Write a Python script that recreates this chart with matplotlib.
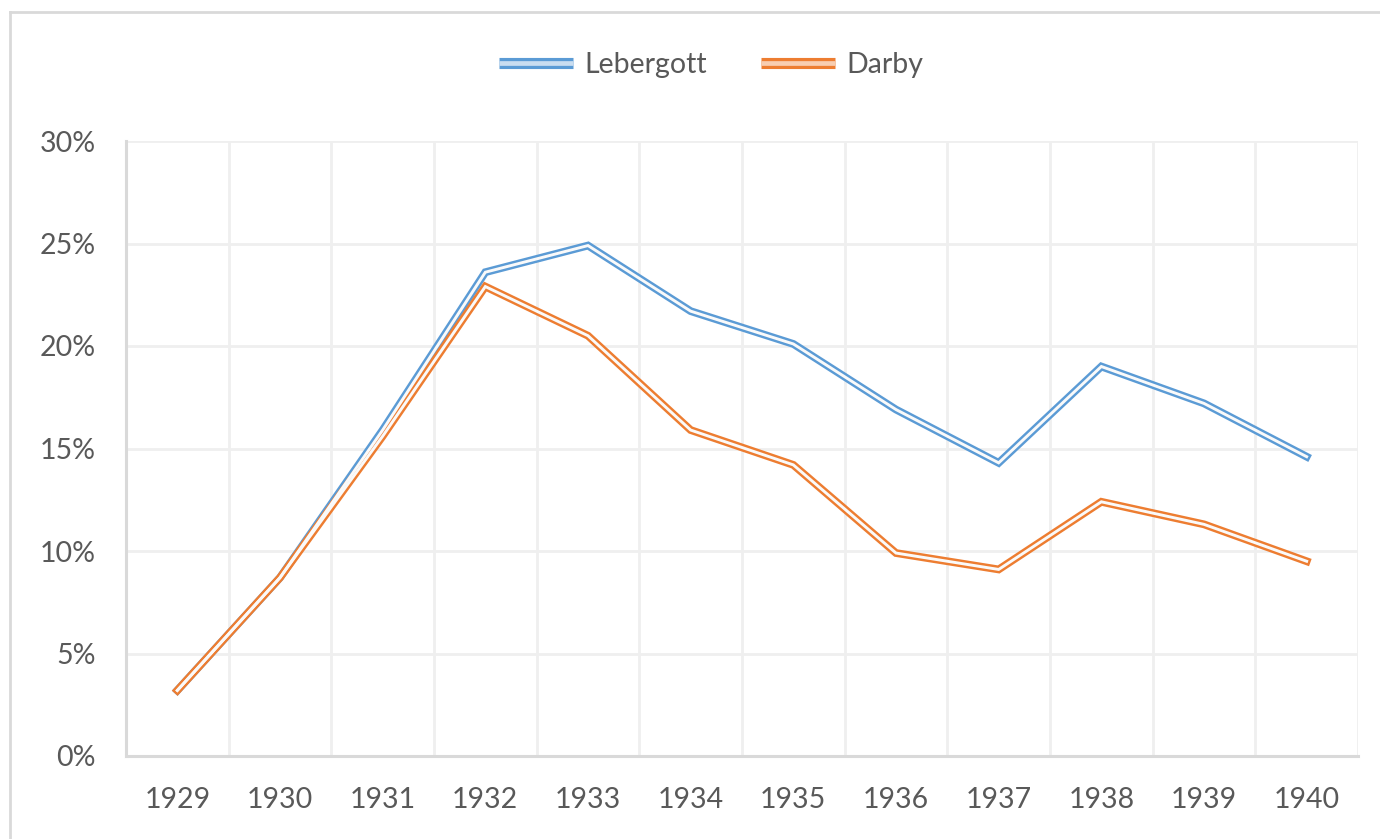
import matplotlib.pyplot as plt
from matplotlib.lines import Line2D
import matplotlib.patheffects as pe
from matplotlib.ticker import FuncFormatter, MultipleLocator

years = ["1929", "1930", "1931", "1932", "1933", "1934",
         "1935", "1936", "1937", "1938", "1939", "1940"]
lebergott = [3.2, 8.7, 15.9, 23.6, 24.9, 21.7, 20.1, 16.9, 14.3, 19.0, 17.2, 14.6]
darby = [3.2, 8.7, 15.6, 22.9, 20.5, 15.9, 14.2, 9.9, 9.1, 12.4, 11.3, 9.5]

plt.rcParams['font.family'] = ['Lato', 'DejaVu Sans']
text_col = "#595959"
grid_col = "#EFEFEF"
axis_col = "#D9D9D9"
blue, orange = "#5B9BD5", "#ED7D31"

fig = plt.figure(figsize=(13.8, 8.39), dpi=100)
ax = fig.add_axes([126 / 1380, 83 / 839, 1232 / 1380, 615 / 839])

x = range(len(years))
outer, inner = 5.6, 2.1
for vals, col in [(lebergott, blue), (darby, orange)]:
    ax.plot(x, vals, color=col, lw=outer, solid_joinstyle="miter", zorder=3)
    ax.plot(x, vals, color="#FAFAFA", lw=inner, solid_joinstyle="miter", zorder=4)

ax.set_xlim(-0.5, len(years) - 0.5)
ax.set_ylim(0, 30)
ax.yaxis.set_major_locator(MultipleLocator(5))
ax.yaxis.set_major_formatter(FuncFormatter(lambda v, p: f"{v:.0f}%"))
ax.set_xticks(list(x))
ax.set_xticklabels(years)
ax.set_xticks([i + 0.5 for i in range(-1, len(years))], minor=True)

ax.grid(True, axis="y", which="major", color=grid_col, lw=2)
ax.grid(True, axis="x", which="minor", color=grid_col, lw=2)
ax.grid(False, axis="x", which="major")
ax.set_axisbelow(True)

for s in ["top", "right"]:
    ax.spines[s].set_visible(False)
for s in ["left", "bottom"]:
    ax.spines[s].set_color(axis_col)
    ax.spines[s].set_linewidth(2.2)

ax.tick_params(which="both", length=0)
ax.tick_params(axis="y", pad=22, labelsize=20.5, labelcolor=text_col)
ax.tick_params(axis="x", pad=22, labelsize=20.5, labelcolor=text_col)

handles = [
    Line2D([], [], color=blue, lw=8, solid_capstyle="butt",
           path_effects=[pe.Normal(), pe.Stroke(linewidth=3.4, foreground="#C9DDF0", capstyle="butt")]),
    Line2D([], [], color=orange, lw=8, solid_capstyle="butt",
           path_effects=[pe.Normal(), pe.Stroke(linewidth=3.4, foreground="#F8CDB0", capstyle="butt")]),
]
fig.legend(handles, ["Lebergott", "Darby"], loc="center", bbox_to_anchor=(711 / 1380, 1 - 65 / 839),
           ncol=2, frameon=False, fontsize=20.5, labelcolor=text_col,
           handlelength=2.6, handletextpad=0.4, columnspacing=1.9)

# chart frame (top and left edges)
fig.add_artist(Line2D([10 / 1380, 1], [1 - 12 / 839, 1 - 12 / 839], color=axis_col, lw=2))
fig.add_artist(Line2D([10 / 1380, 10 / 1380], [0, 1 - 12 / 839], color=axis_col, lw=2))

fig.savefig("out.png", dpi=100)
plt.close()
